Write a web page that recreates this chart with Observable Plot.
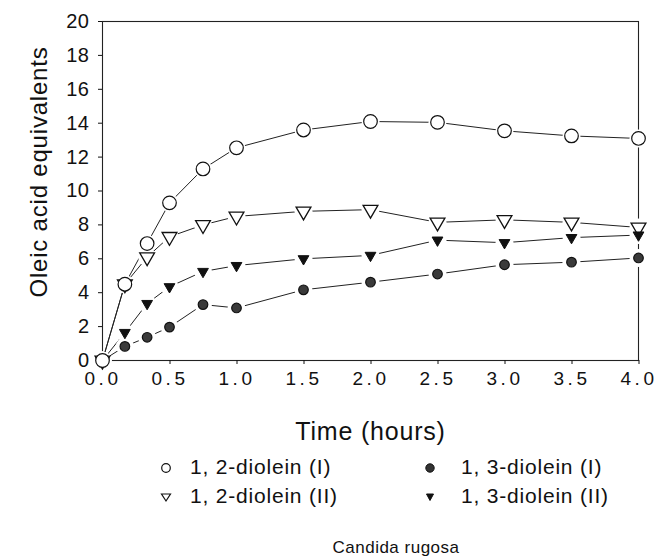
<!DOCTYPE html>
<html>
<head>
<meta charset="utf-8">
<script src="https://cdn.jsdelivr.net/npm/d3@7"></script>
<script src="https://cdn.jsdelivr.net/npm/@observablehq/plot@0.6"></script>
<style>
  body { margin: 0; background: #fff; font-family: "Liberation Sans", Arial, sans-serif; }
  #wrap { position: relative; width: 658px; height: 559px; }
  #chart { position: absolute; left: 0; top: 0; }
  g[aria-label="x-axis tick label"] text { letter-spacing: 3.5px; }
  g[aria-label="y-axis tick label"] text { letter-spacing: 0.5px; }
  .lab { position: absolute; color: #111; white-space: nowrap; }
  .leg { position: absolute; font-size: 21px; letter-spacing: 0.8px; color: #111; white-space: nowrap; line-height: 24px; }
  .sym { position: absolute; }
</style>
</head>
<body>
<div id="wrap">
  <div id="chart"></div>
</div>
<script>
// Data
const times        = [0, 0.167, 0.333, 0.5, 0.75, 1.0, 1.5, 2.0, 2.5, 3.0, 3.5, 4.0];
const diolein12_I  = [0, 4.5, 6.9, 9.3, 11.3, 12.55, 13.6, 14.1, 14.05, 13.55, 13.25, 13.1];
const diolein12_II = [0, 4.5, 6.1, 7.3, 8.0, 8.5, 8.8, 8.9, 8.15, 8.3, 8.15, 7.85];
const diolein13_I  = [0, 0.83, 1.37, 1.97, 3.3, 3.1, 4.17, 4.62, 5.1, 5.65, 5.8, 6.05];
const diolein13_II = [0, 1.65, 3.36, 4.35, 5.25, 5.6, 6.0, 6.2, 7.1, 6.95, 7.25, 7.4];
const seriesNames  = ["1, 2-diolein (I)", "1, 3-diolein (I)", "1, 2-diolein (II)", "1, 3-diolein (II)"];
const xTicks = [0, 0.5, 1, 1.5, 2, 2.5, 3, 3.5, 4];
const yTicks = [0, 2, 4, 6, 8, 10, 12, 14, 16, 18, 20];
const xLabel = ["Time (hours)"];
const yLabel = ["Oleic acid equivalents"];
const caption = "Candida rugosa";

const seriesValues = [diolein12_I, diolein13_I, diolein12_II, diolein13_II];
const rows = seriesValues.map((vals, k) => times.map((t, i) => ({t, v: vals[i], s: seriesNames[k]})));
const [sA, sB, sC, sD] = rows;
const all = rows.flat();

const chart = Plot.plot({
  width: 658,
  height: 450,
  marginLeft: 102,
  marginRight: 20,
  marginTop: 21,
  marginBottom: 90,
  style: { fontFamily: "Liberation Sans, Arial, sans-serif", color: "#111", background: "white" },
  x: { domain: [0, 4] },
  y: { domain: [0, 20] },
  marks: [
    Plot.frame({ stroke: "#222", strokeWidth: 1.1 }),
    Plot.axisY({ ticks: yTicks, tickSize: 4, tickPadding: 9, fontSize: 20, tickFormat: d => String(d), label: null }),
    Plot.axisX({ ticks: xTicks, tickSize: 4, tickPadding: 7, fontSize: 19, dx: 0.5, tickFormat: d3.format(".1f"), label: null }),
    Plot.text(yLabel, { text: d => d, frameAnchor: "left", textAnchor: "middle", rotate: -90, dx: -63, dy: -19, fontSize: 24, fill: "#111" }),
    Plot.text(xLabel, { text: d => d, frameAnchor: "bottom", textAnchor: "middle", dy: 79, fontSize: 25, fill: "#111" }),
    // lines
    ...rows.map(r => Plot.line(r, { x: "t", y: "v", stroke: "#222", strokeWidth: 1 })),
    // white halos to give the gaps around markers
    Plot.dot(all, { x: "t", y: "v", r: 9, fill: "white", stroke: null }),
    // markers
    Plot.dot(sC, { x: "t", y: "v", symbol: "triangle", rotate: 180, r: 5.5, fill: "white", stroke: "#111", strokeWidth: 1.3 }),
    Plot.dot(sD, { x: "t", y: "v", symbol: "triangle", rotate: 180, r: 4, fill: "#111", stroke: "#111", strokeWidth: 1 }),
    Plot.dot(sB, { x: "t", y: "v", r: 4.8, fill: "#3a3a3a", stroke: "#111", strokeWidth: 1.2 }),
    Plot.dot(sA, { x: "t", y: "v", r: 6.8, fill: "white", stroke: "#111", strokeWidth: 1.2 })
  ]
});
chart.querySelectorAll('g[aria-label="text"] text').forEach(t => t.setAttribute("letter-spacing", "0.8"));
document.getElementById("chart").appendChild(chart);

// Legend (below the plot)
const wrap = document.getElementById("wrap");
function sym(kind, cx, cy) {
  const s = document.createElementNS("http://www.w3.org/2000/svg", "svg");
  s.setAttribute("width", 14); s.setAttribute("height", 14);
  s.setAttribute("class", "sym");
  s.style.left = (cx - 7) + "px"; s.style.top = (cy - 7) + "px";
  let inner = "";
  if (kind === 0) inner = '<circle cx="7" cy="7" r="4.3" fill="white" stroke="#111" stroke-width="1.2"/>';
  if (kind === 1) inner = '<circle cx="7" cy="7" r="4.2" fill="#333" stroke="#111" stroke-width="1"/>';
  if (kind === 2) inner = '<path d="M2.5,4 L11.5,4 L7,11 Z" fill="white" stroke="#111" stroke-width="1.2"/>';
  if (kind === 3) inner = '<path d="M3.5,4 L10.5,4 L7,10.5 Z" fill="#111" stroke="#111" stroke-width="1"/>';
  s.innerHTML = inner;
  wrap.appendChild(s);
}
const legendPos = [[166, 190, 468], [430, 461, 468], [166, 190, 497], [430, 461, 497]];
seriesNames.forEach((name, k) => {
  const [sx, tx, y] = legendPos[k];
  sym(k, sx, y);
  const d = document.createElement("div");
  d.className = "leg";
  d.textContent = name;
  d.style.left = tx + "px";
  d.style.top = (y - 13) + "px";
  wrap.appendChild(d);
});
const cap = document.createElement("div");
cap.className = "lab";
cap.textContent = caption;
cap.style.fontSize = "17px";
cap.style.letterSpacing = "0.5px";
cap.style.left = "0px"; cap.style.width = "792px"; cap.style.textAlign = "center";
cap.style.top = "538px";
wrap.appendChild(cap);
</script>
</body>
</html>
